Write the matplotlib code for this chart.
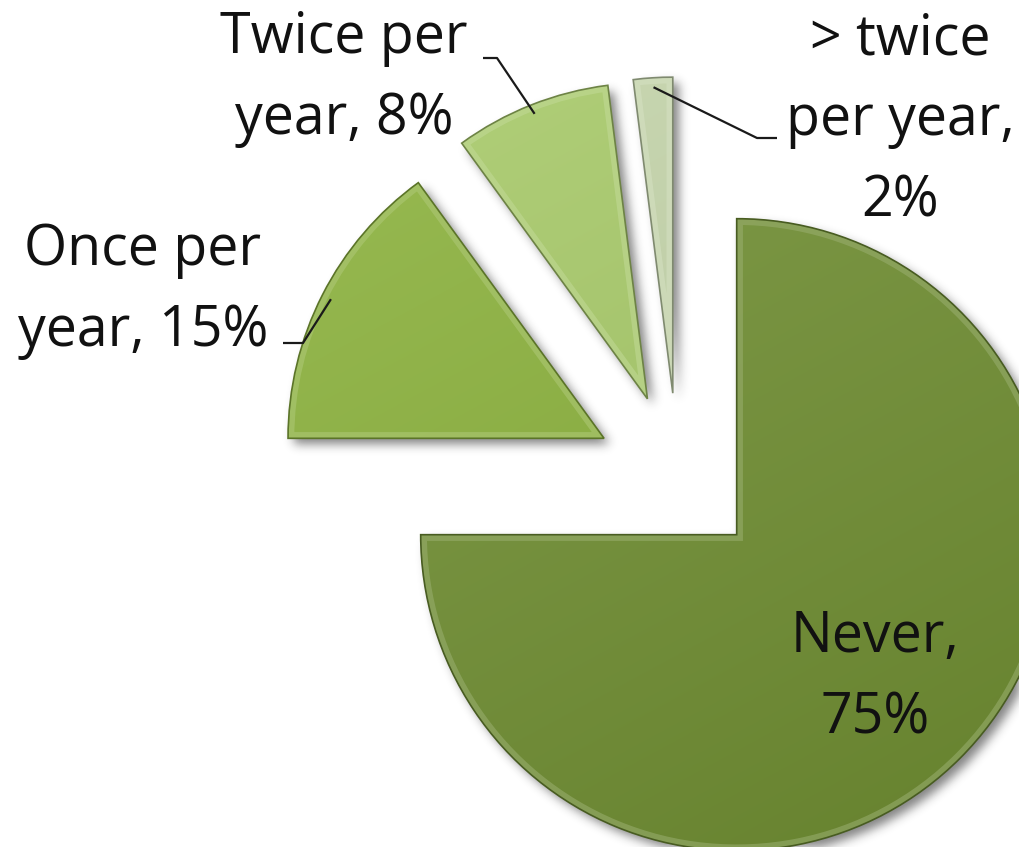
import numpy as np
import matplotlib
matplotlib.use("Agg")
import matplotlib.pyplot as plt
from matplotlib.patches import Wedge
from matplotlib.colors import to_rgb

# ---- data -------------------------------------------------------------
categories = ["Never", "Once per year", "Twice per year", "> twice per year"]
values = [75, 15, 8, 2]
# how each label is wrapped when drawn
label_names = ["Never,", "Once per\nyear,", "Twice per\nyear,", "> twice\nper year,"]
label_seps = ["\n", " ", " ", "\n"]
colors = ["#6f8d32", "#8cb23e", "#a8ca6a", "#c4d4aa"]

# ---- layout (pixels, y measured from the top) --------------------------
W, H = 1020, 847
R = 316
CENTER = (678, 476)
EXPLODE = 83
# (centre x, first baseline y) of every label block
label_pos = [(875, 652), (143, 265), (344, 53), (900, 54)]
LINE_STEP = 81
# leader elbows: (x_start, x_elbow, y) ; None means the label sits on the slice
leaders = [None, (283, 303, 343), (483, 497, 58), (777, 757, 138)]

FONT = ["Open Sans", "DejaVu Sans"]
FONT_SIZE = 40


def Y(y):
    return H - y


fig = plt.figure(figsize=(W / 100, H / 100), dpi=100)
ax = fig.add_axes([0, 0, 1, 1])

wedges, _ = ax.pie(values, explode=[EXPLODE] * len(values), radius=R,
                   center=(CENTER[0], Y(CENTER[1])), startangle=90,
                   counterclock=False, colors=colors,
                   wedgeprops=dict(linewidth=0))


def mix(c, other, t):
    c = np.array(to_rgb(c))
    o = np.array(to_rgb(other))
    return tuple(c * (1 - t) + o * t)


# soft drop shadow under all slices
yy, xx = np.mgrid[0:H, 0:W]
pts = np.column_stack([xx.ravel() + 0.5, H - (yy.ravel() + 0.5)])
mask = np.zeros(H * W)
for w in wedges:
    mask = np.maximum(mask, w.get_path().contains_points(pts).astype(float))
mask = mask.reshape(H, W)
dx, dy = 6, 6
shifted = np.zeros_like(mask)
shifted[dy:, dx:] = mask[:-dy, :-dx]
sig = 5.0
kx = np.arange(-15, 16)
kern = np.exp(-kx ** 2 / (2 * sig ** 2))
kern /= kern.sum()
blur = np.apply_along_axis(lambda m: np.convolve(m, kern, mode="same"), 1, shifted)
blur = np.apply_along_axis(lambda m: np.convolve(m, kern, mode="same"), 0, blur)
shadow = np.zeros((H, W, 4))
shadow[..., :3] = 0.12
shadow[..., 3] = blur * 0.55
ax.imshow(shadow, extent=(0, W, 0, H), origin="upper", zorder=0.5,
          interpolation="bilinear")

# gradient fill + bevel rim for each slice
for w, c in zip(wedges, colors):
    w.set_zorder(1)
    x0, y0 = w.center
    bx0, bx1 = x0 - w.r, x0 + w.r
    by0, by1 = y0 - w.r, y0 + w.r
    n = 200
    gy, gx = np.mgrid[0:n, 0:n] / (n - 1)
    t = 0.65 * (1 - gy) + 0.35 * (1 - gx)  # light from upper left
    top = np.array(mix(c, "white", 0.10))
    bot = np.array(mix(c, "black", 0.08))
    img = bot[None, None, :] * (1 - t[..., None]) + top[None, None, :] * t[..., None]
    im = ax.imshow(img, extent=(bx0, bx1, by0, by1), origin="upper",
                   zorder=1.1, interpolation="bilinear")
    im.set_clip_path(w)
    rim = Wedge(w.center, w.r, w.theta1, w.theta2, facecolor="none",
                edgecolor=mix(c, "white", 0.30), linewidth=9, alpha=0.55,
                zorder=1.2)
    ax.add_patch(rim)
    rim.set_clip_path(w)
    ax.add_patch(Wedge(w.center, w.r, w.theta1, w.theta2, facecolor="none",
                       edgecolor=mix(c, "black", 0.35), linewidth=1.2,
                       zorder=1.3))

# labels and leader lines
for i, w in enumerate(wedges):
    txt = f"{label_names[i]}{label_seps[i]}{values[i]}%"
    lx, ly = label_pos[i]
    for k, line in enumerate(txt.split("\n")):
        ax.text(lx, Y(ly + k * LINE_STEP), line, ha="center", va="baseline",
                fontsize=FONT_SIZE, family=FONT, color="#111111", zorder=3)
    if leaders[i] is not None:
        xs, xe, yl = leaders[i]
        mid = np.deg2rad((w.theta1 + w.theta2) / 2)
        ex = w.center[0] + 0.97 * w.r * np.cos(mid)
        ey = w.center[1] + 0.97 * w.r * np.sin(mid)
        ax.plot([xs, xe, ex], [Y(yl), Y(yl), ey], color="#1a1a1a", lw=1.6,
                zorder=3, solid_capstyle="butt")

ax.set_xlim(0, W)
ax.set_ylim(0, H)
ax.set_aspect("equal")
ax.axis("off")
fig.savefig("out.png", dpi=100, facecolor="white")
